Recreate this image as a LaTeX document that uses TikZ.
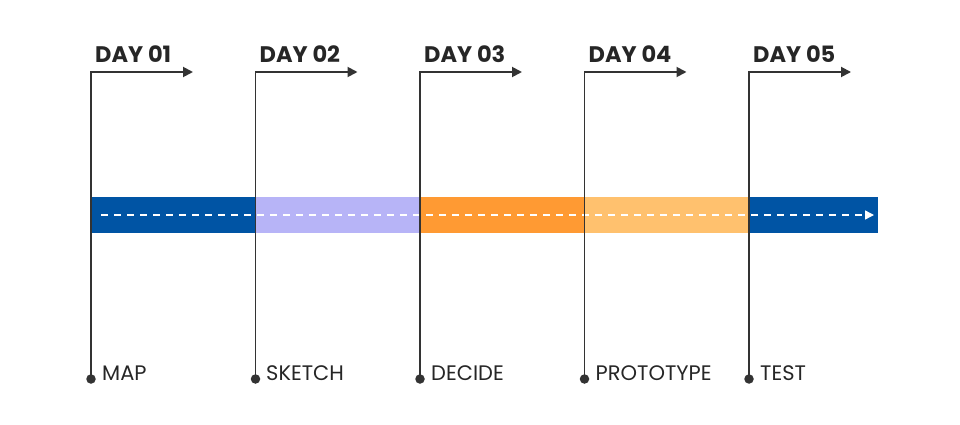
\documentclass[tikz,border=0pt]{standalone}
\usepackage{fontspec}
\setmainfont{Poppins}
\usepackage{tikz}
\usetikzlibrary{arrows.meta}
\usetikzlibrary{positioning}
\definecolor{lineGray}{HTML}{333333}
\definecolor{bandBlue}{HTML}{0054A4}
\definecolor{bandLilac}{HTML}{B7B4F7}
\definecolor{bandOrange}{HTML}{FF9A33}
\definecolor{bandPeach}{HTML}{FFC16E}

\begin{document}
\begin{tikzpicture}[
x=1pt,y=-1pt,
DayLines/.style={draw=lineGray,line width=1.9pt,-{Triangle[length=10pt, width=10pt]}},
DayDots/.style={circle,fill=lineGray,inner sep=0pt,minimum size=9.5pt},
DayTitles/.style={anchor=base west,inner sep=0pt,text=black!85,font=\fontsize{22.5}{26}\selectfont\bfseries},
StepTexts/.style={anchor=base west,inner sep=0pt,text=black!85,font=\fontsize{21}{25}\selectfont},
Flow/.style={draw=white,line width=1.4pt,dash pattern=on 7pt off 6pt,-{Triangle[length=9pt, width=9pt]}}
]
\useasboundingbox (0,0) rectangle (960,425);

% colour band
\fill[bandBlue]   (91,197) rectangle (255.5,233);
\fill[bandLilac]  (255.5,197) rectangle (420,233);
\fill[bandOrange] (420,197) rectangle (584.5,233);
\fill[bandPeach]  (584.5,197) rectangle (749,233);
\fill[bandBlue]   (749,197) rectangle (878,233);

\coordinate (FlowStart) at (101,215);
\coordinate (FlowEnd) at (874,215);
\draw[Flow] (FlowStart)--(FlowEnd);

% day 01
\node[DayDots] (dotA) at (91,379) {};
\coordinate (topA) at (91,72);
\coordinate (tipA) at (193,72);
\draw[DayLines] (dotA.center)--(topA)--(tipA);
\node[DayTitles] (dayA) at (95,63) {DAY 01};
\node[StepTexts] (stepA) at (102,380.5) {MAP};

% day 02
\node[DayDots] (dotB) at (255.5,379) {};
\coordinate (topB) at (255.5,72);
\coordinate (tipB) at (357.5,72);
\draw[DayLines] (dotB.center)--(topB)--(tipB);
\node[DayTitles] (dayB) at (259.5,63) {DAY 02};
\node[StepTexts] (stepB) at (266,380.5) {SKETCH};

% day 03
\node[DayDots] (dotC) at (420,379) {};
\coordinate (topC) at (420,72);
\coordinate (tipC) at (522,72);
\draw[DayLines] (dotC.center)--(topC)--(tipC);
\node[DayTitles] (dayC) at (424,63) {DAY 03};
\node[StepTexts] (stepC) at (431,380.5) {DECIDE};

% day 04
\node[DayDots] (dotD) at (584.5,379) {};
\coordinate (topD) at (584.5,72);
\coordinate (tipD) at (686.5,72);
\draw[DayLines] (dotD.center)--(topD)--(tipD);
\node[DayTitles] (dayD) at (588.5,63) {DAY 04};
\node[StepTexts] (stepD) at (595.5,380.5) {PROTOTYPE};

% day 05
\node[DayDots] (dotE) at (749,379) {};
\coordinate (topE) at (749,72);
\coordinate (tipE) at (851,72);
\draw[DayLines] (dotE.center)--(topE)--(tipE);
\node[DayTitles] (dayE) at (753,63) {DAY 05};
\node[StepTexts] (stepE) at (760,380.5) {TEST};

\end{tikzpicture}
\end{document}
